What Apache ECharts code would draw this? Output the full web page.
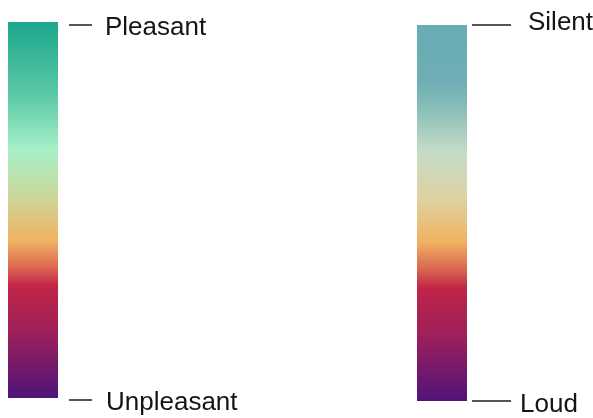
<!DOCTYPE html>
<html>
<head>
<meta charset="utf-8">
<script src="https://cdn.jsdelivr.net/npm/echarts@6/dist/echarts.min.js"></script>
<style>
html,body{margin:0;padding:0;background:#fff;}
#chart{width:593px;height:418px;}
</style>
</head>
<body>
<div id="chart"></div>
<script>
// Scale names and their end labels (bottom, top)
const scales = ['Pleasantness', 'Loudness'];
const pleasantLabels = ['Unpleasant', 'Pleasant'];
const loudLabels = ['Loud', 'Silent'];
// Each bar spans the full normalized range
const barValues = [1, 1];
// Gradient stops, top (0) to bottom (1)
const pleasantOffsets = [0, 0.2, 0.34, 0.46, 0.58, 0.655, 0.7, 0.82, 1];
const pleasantColors = ['#1ca68a', '#5ecaa8', '#a6f0c8', '#cad89c', '#f0b462', '#dc6652', '#c22648', '#a0205a', '#4e1478'];
const loudOffsets = [0, 0.15, 0.22, 0.34, 0.46, 0.575, 0.655, 0.7, 0.82, 1];
const loudColors = ['#6aacb5', '#6eaeb4', '#88bdb8', '#c6dcc8', '#ddd2a2', '#f0b462', '#d86050', '#c02448', '#a0205a', '#50147a'];

function gradient(offsets, colors) {
  return new echarts.graphic.LinearGradient(0, 0, 0, 1,
    offsets.map((o, i) => ({ offset: o, color: colors[i] })));
}

const chart = echarts.init(document.getElementById('chart'), null, { renderer: 'canvas' });
const font = 'Liberation Sans, Arial, sans-serif';

const option = {
  backgroundColor: '#ffffff',
  animation: false,
  grid: [
    { left: 8, width: 50, top: 22, height: 376, outerBoundsMode: 'none', containLabel: false },      // bar 1
    { left: 8, width: 61, top: 25, height: 375, outerBoundsMode: 'none', containLabel: false },      // label axis 1
    { left: 417, width: 50, top: 25, height: 376, outerBoundsMode: 'none', containLabel: false },    // bar 2
    { left: 417, width: 55, top: 25, height: 376, outerBoundsMode: 'none', containLabel: false }     // label axis 2
  ],
  xAxis: [0, 1, 2, 3].map(i => ({
    gridIndex: i, type: 'category', data: [scales[i < 2 ? 0 : 1]], show: false, boundaryGap: true
  })),
  yAxis: [
    { gridIndex: 0, type: 'value', min: 0, max: 1, show: false },
    {
      gridIndex: 1, type: 'value', min: 0, max: 1, interval: 1, position: 'right',
      axisLine: { show: false }, splitLine: { show: false },
      axisTick: { show: true, length: 23, lineStyle: { color: '#555', width: 2 } },
      axisLabel: {
        margin: 36, fontSize: 26, color: '#151515', fontFamily: font,
        formatter: v => v === 1 ? '{p|' + pleasantLabels[1] + '}' : '{u|' + pleasantLabels[0] + '}',
        rich: {
          p: { fontSize: 26, fontFamily: font, color: '#151515', padding: [5, 0, 0, 0] },
          u: { fontSize: 26, fontFamily: font, color: '#151515', padding: [6, 0, 0, 1] }
        }
      }
    },
    { gridIndex: 2, type: 'value', min: 0, max: 1, show: false },
    {
      gridIndex: 3, type: 'value', min: 0, max: 1, interval: 1, position: 'right',
      axisLine: { show: false }, splitLine: { show: false },
      axisTick: { show: true, length: 39, lineStyle: { color: '#555', width: 2 } },
      axisLabel: {
        margin: 48, fontSize: 26, color: '#151515', fontFamily: font,
        formatter: v => v === 1 ? '{s|' + loudLabels[1] + '}' : '{l|' + loudLabels[0] + '}',
        rich: {
          s: { fontSize: 26, fontFamily: font, color: '#151515', padding: [0, 0, 4, 8] },
          l: { fontSize: 26, fontFamily: font, color: '#151515', padding: [7, 0, 0, 0] }
        }
      }
    }
  ],
  series: [
    {
      type: 'bar', xAxisIndex: 0, yAxisIndex: 0, barWidth: '100%',
      data: [barValues[0]],
      itemStyle: { color: gradient(pleasantOffsets, pleasantColors) },
      silent: true
    },
    {
      type: 'bar', xAxisIndex: 2, yAxisIndex: 2, barWidth: '100%',
      data: [barValues[1]],
      itemStyle: { color: gradient(loudOffsets, loudColors) },
      silent: true
    }
  ]
};
chart.setOption(option);
</script>
</body>
</html>
